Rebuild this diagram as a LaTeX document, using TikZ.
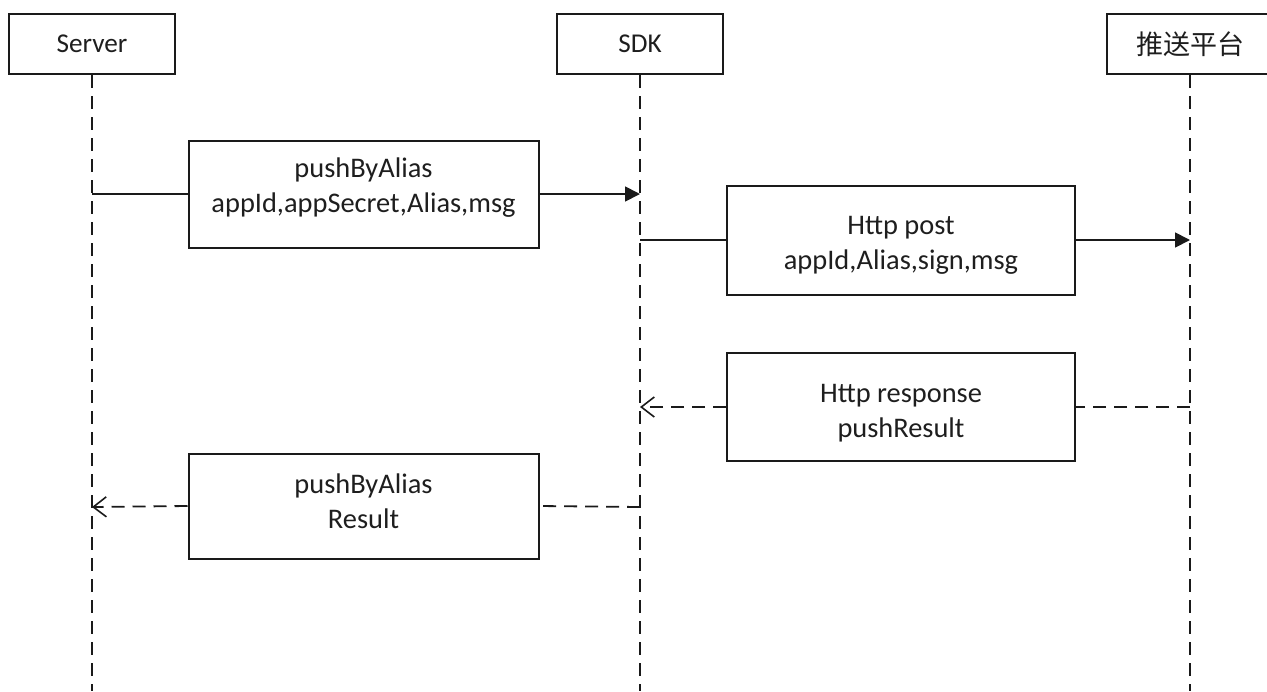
\documentclass[tikz,border=0pt]{standalone}
\usepackage{fontspec}
\setmainfont{Carlito}
\newfontfamily\cjkfont{Noto Sans CJK SC}
\usetikzlibrary{arrows.meta}
\definecolor{txt}{HTML}{1E1E1E}
\definecolor{ln}{HTML}{1A1A1A}
\begin{document}
\begin{tikzpicture}[x=0.5pt,y=-0.5pt,
  actor/.style={draw=ln,line width=1pt,minimum width=83pt,minimum height=30pt,inner sep=0pt,text=txt,font=\fontsize{13.6pt}{16pt}\selectfont},
  msgbox/.style={draw=ln,line width=1pt,minimum width=175pt,inner sep=0pt},
  msgtext/.style={align=center,text=txt,inner sep=0pt,font=\fontsize{14.2pt}{17.5pt}\selectfont},
  life/.style={draw=ln,line width=1pt,dash pattern=on 6.5pt off 4pt},
  call/.style={draw=ln,line width=0.9pt},
  callarrow/.style={draw=ln,line width=0.9pt,-{Triangle[length=7.5pt,width=7.5pt]}},
  ret/.style={draw=ln,line width=0.9pt,dash pattern=on 6.5pt off 4pt},
  retarrow/.style={draw=ln,line width=0.9pt,dash pattern=on 6.5pt off 4pt,-{Straight Barb[length=6.5pt,width=10pt,line width=0.8pt]}}
]
\useasboundingbox (0,0) rectangle (1267,691);
\clip (0,0) rectangle (1267,691);

\node[actor] (srv) at (92,44) {Server};
\node[actor] (sdk) at (640,44) {SDK};
\node[actor,font=\cjkfont\fontsize{13.5pt}{16pt}\selectfont] (plat) at (1190,44) {推送平台};

\coordinate (srvEnd) at (92,691);
\coordinate (sdkEnd) at (640,691);
\coordinate (platEnd) at (1190,691);
\draw[life] (srv.south) -- (srvEnd);
\draw[life] (sdk.south) -- (sdkEnd);
\draw[life] (plat.south) -- (platEnd);

% message 1
\coordinate (m1a) at (92,194);
\coordinate (m1b) at (640,194);
\node[msgbox,minimum height=53.5pt] (m1) at (363.5,194) {};
\node[msgtext] (t1) at ([yshift=3.2pt]m1.center) {pushByAlias\\appId,appSecret,Alias,msg};
\draw[call] (m1a) -- (m1.west);
\draw[callarrow] (m1.east) -- (m1b);

% message 2
\coordinate (m2a) at (640,240);
\coordinate (m2b) at (1190,240);
\node[msgbox,minimum width=174pt,minimum height=54.5pt] (m2) at (901,240) {};
\node[msgtext] (t2) at ([yshift=-2.6pt]m2.center) {Http post\\appId,Alias,sign,msg};
\draw[call] (m2a) -- (m2.west);
\draw[callarrow] (m2.east) -- (m2b);

% message 3
\coordinate (m3a) at (1190,407);
\coordinate (m3b) at (640,407);
\node[msgbox,minimum width=174pt,minimum height=54pt] (m3) at (901,407) {};
\node[msgtext] (t3) at ([yshift=-3pt]m3.center) {Http response\\pushResult};
\draw[ret] (m3a) -- (m3.east);
\draw[retarrow] (m3.west) -- (m3b);

% message 4
\coordinate (m4a) at (640,507);
\coordinate (m4b) at (92,507);
\node[msgbox,minimum height=52.5pt] (m4) at (363.5,506) {};
\node[msgtext] (t4) at ([yshift=2.5pt]m4.center) {pushByAlias\\Result};
\draw[ret] (m4a) -- (m4.east);
\draw[retarrow] (m4.west) -- (m4b);
\end{tikzpicture}
\end{document}
